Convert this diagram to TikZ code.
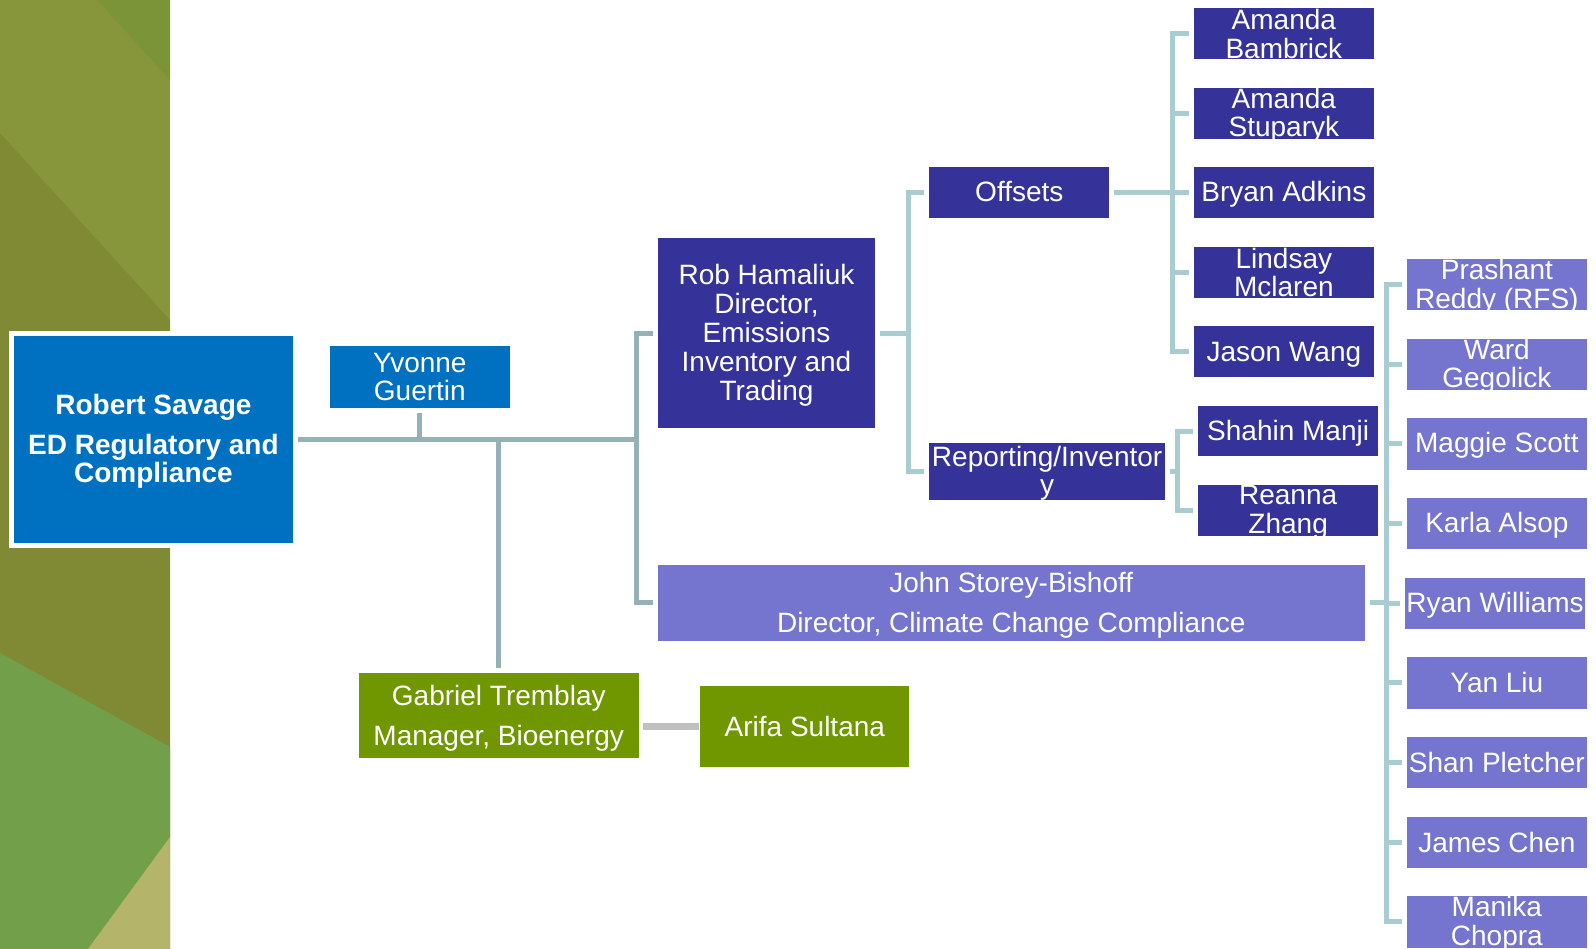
\documentclass[tikz,border=0pt]{standalone}
\usepackage{fontspec}
\setmainfont{Liberation Sans}
\usetikzlibrary{calc}

\definecolor{edblue}{HTML}{0070C0}
\definecolor{orgdark}{HTML}{353399}
\definecolor{orglight}{HTML}{7575CF}
\definecolor{orggreen}{HTML}{709600}
\definecolor{linkdark}{HTML}{95B1B5}
\definecolor{linklight}{HTML}{A8CCCF}
\definecolor{linkgrey}{HTML}{C0C0C0}
\definecolor{panelA}{HTML}{87963A}
\definecolor{panelB}{HTML}{7B9438}
\definecolor{panelC}{HTML}{808A35}
\definecolor{panelD}{HTML}{72A04A}
\definecolor{panelE}{HTML}{B4B46A}

% strut that centres capitals in a box line
\newcommand\tstrut{\rule[-4pt]{0pt}{28pt}}
% filled box plus its white caption; optional argument styles the caption
\newcommand\orgbox[7][]{%
  \node[#2, minimum width=#3, minimum height=#4] (#5) at (#6) {};
  \node[lbl, #1] (#5-text) at (#5.center) {#7};}

\begin{document}
\begin{tikzpicture}[x=1pt, y=-1pt,
  shape box/.style={rectangle, inner sep=0pt, outer sep=0pt, draw=none},
  edbox/.style={shape box, fill=edblue},
  darkbox/.style={shape box, fill=orgdark},
  lightbox/.style={shape box, fill=orglight},
  greenbox/.style={shape box, fill=orggreen},
  lbl/.style={text=white, align=center, inner sep=0pt,
    font=\fontsize{28}{28.8}\selectfont,
    execute at begin node=\tstrut, execute at end node=\tstrut},
  multi/.style={yshift=-2pt},
  linkL/.style={draw=linkdark, line width=5pt},
  linkR/.style={draw=linklight, line width=5pt},
  link/.style={shorten <=5pt, shorten >=5pt},
  tick/.style={shorten >=5pt},
  stem/.style={shorten <=5pt},
]
\useasboundingbox (0,0) rectangle (1596,949);

% faceted side panel
\fill[panelA] (0,0) rectangle (170,949);
\fill[panelB] (97,0) -- (170,0) -- (170,80) -- cycle;
\fill[panelC] (0,133) -- (170,320) -- (170,949) -- (0,949) -- cycle;
\fill[panelD] (0,653) -- (170,747) -- (170,837) -- (88,949) -- (0,949) -- cycle;
\fill[panelE] (170,837) -- (170,949) -- (88,949) -- cycle;

% bus lines
\coordinate (bigbus) at (636.7,0);
\coordinate (robbus) at (908.7,0);
\coordinate (offbus) at (1172.5,0);
\coordinate (repbus) at (1177,0);
\coordinate (johnbus) at (1386,0);

% top of the tree
\node[shape box, fill=white, minimum width=284pt, minimum height=216.7pt] (robertframe) at (151,439.35) {};
\orgbox[multi]{edbox}{279.1pt}{206.7pt}{robert}{153.45,439.35}{\textbf{Robert Savage}\\[11pt]\textbf{ED Regulatory and}\\\textbf{Compliance}}
\orgbox[multi]{edbox}{179.7pt}{61.7pt}{yvonne}{419.85,376.85}{Yvonne\\Guertin}

% directors
\orgbox[multi]{darkbox}{217.6pt}{190.3pt}{rob}{766.5,333.35}{Rob Hamaliuk\\Director,\\Emissions\\Inventory and\\Trading}
\orgbox[multi]{lightbox}{707.1pt}{75.7pt}{john}{1011.25,602.85}{John Storey-Bishoff\\[11.2pt]Director, Climate Change Compliance}
\orgbox[multi]{greenbox}{279.9pt}{85pt}{gabriel}{498.75,715.8}{Gabriel Tremblay\\[11.2pt]Manager, Bioenergy}
\orgbox{greenbox}{208.9pt}{80.7pt}{arifa}{804.85,726.35}{Arifa Sultana}

% emissions teams
\orgbox[yshift=1pt]{darkbox}{180pt}{51pt}{offsets}{1019.3,192.8}{Offsets}
\orgbox[multi]{darkbox}{235.7pt}{57.3pt}{reporting}{1047.15,471.35}{Reporting/Inventor\\y}

\orgbox[multi]{darkbox}{179.7pt}{51pt}{ab}{1283.85,33.5}{Amanda\\Bambrick}
\orgbox[multi]{darkbox}{179.7pt}{51pt}{as}{1283.85,113.2}{Amanda\\Stuparyk}
\orgbox{darkbox}{179.7pt}{51pt}{ba}{1283.85,192.8}{Bryan Adkins}
\orgbox[multi]{darkbox}{179.7pt}{51pt}{lm}{1283.85,272.35}{Lindsay\\Mclaren}
\orgbox{darkbox}{179.7pt}{51pt}{jw}{1283.85,352}{Jason Wang}

\orgbox{darkbox}{179.7pt}{50.5pt}{sm}{1288.15,431.1}{Shahin Manji}
\orgbox[multi]{darkbox}{179.7pt}{50.5pt}{rz}{1288.15,510.5}{Reanna\\Zhang}

% compliance team
\orgbox[multi]{lightbox}{179.7pt}{51.3pt}{prashant}{1496.85,284.6}{Prashant\\Reddy (RFS)}
\orgbox[multi]{lightbox}{179.7pt}{51.3pt}{ward}{1496.85,364.3}{Ward\\Gegolick}
\orgbox{lightbox}{179.7pt}{51.3pt}{maggie}{1496.85,443.9}{Maggie Scott}
\orgbox{lightbox}{179.7pt}{51.3pt}{karla}{1496.85,523.6}{Karla Alsop}
\orgbox{lightbox}{179.7pt}{51.3pt}{ryan}{1495.1,603.3}{Ryan Williams}
\orgbox{lightbox}{179.7pt}{51.3pt}{yan}{1496.85,682.9}{Yan Liu}
\orgbox{lightbox}{179.7pt}{51.3pt}{shan}{1496.85,762.6}{Shan Pletcher}
\orgbox{lightbox}{179.7pt}{51.3pt}{james}{1496.85,842.3}{James Chen}
\orgbox[multi]{lightbox}{179.7pt}{51.3pt}{manika}{1496.85,921.9}{Manika\\Chopra}

% connectors from the executive director
\draw[linkL, link] (robert.east) -- (robert.east -| bigbus) |- (rob.west);
\draw[linkL, tick] (robert.east -| bigbus) |- (john.west);
\draw[linkL, stem] (yvonne.south) -- (yvonne.south |- robert.east);
\draw[linkL, stem] (gabriel.north) -- (gabriel.north |- robert.east);

% emissions branch
\draw[linkR, link] (rob.east) -- (rob.east -| robbus) |- (offsets.west);
\draw[linkR, tick] (rob.east -| robbus) |- (reporting.west);

\draw[linkR, link] (offsets.east) -- (offsets.east -| offbus) |- (ab.west);
\foreach \c in {as,ba,lm,jw}
  \draw[linkR, tick] (offsets.east -| offbus) |- (\c.west);

\draw[linkR, link] (reporting.east) -- (reporting.east -| repbus) |- (sm.west);
\draw[linkR, tick] (reporting.east -| repbus) |- (rz.west);

% compliance branch
\draw[linkR, link] (john.east) -- (john.east -| johnbus) |- (prashant.west);
\foreach \c in {ward,maggie,karla,ryan,yan,shan,james,manika}
  \draw[linkR, tick] (john.east -| johnbus) |- (\c.west);

% bioenergy
\draw[draw=linkgrey, line width=7pt, shorten <=4pt, shorten >=1pt] (gabriel.east |- arifa.west) -- (arifa.west);
\end{tikzpicture}
\end{document}
